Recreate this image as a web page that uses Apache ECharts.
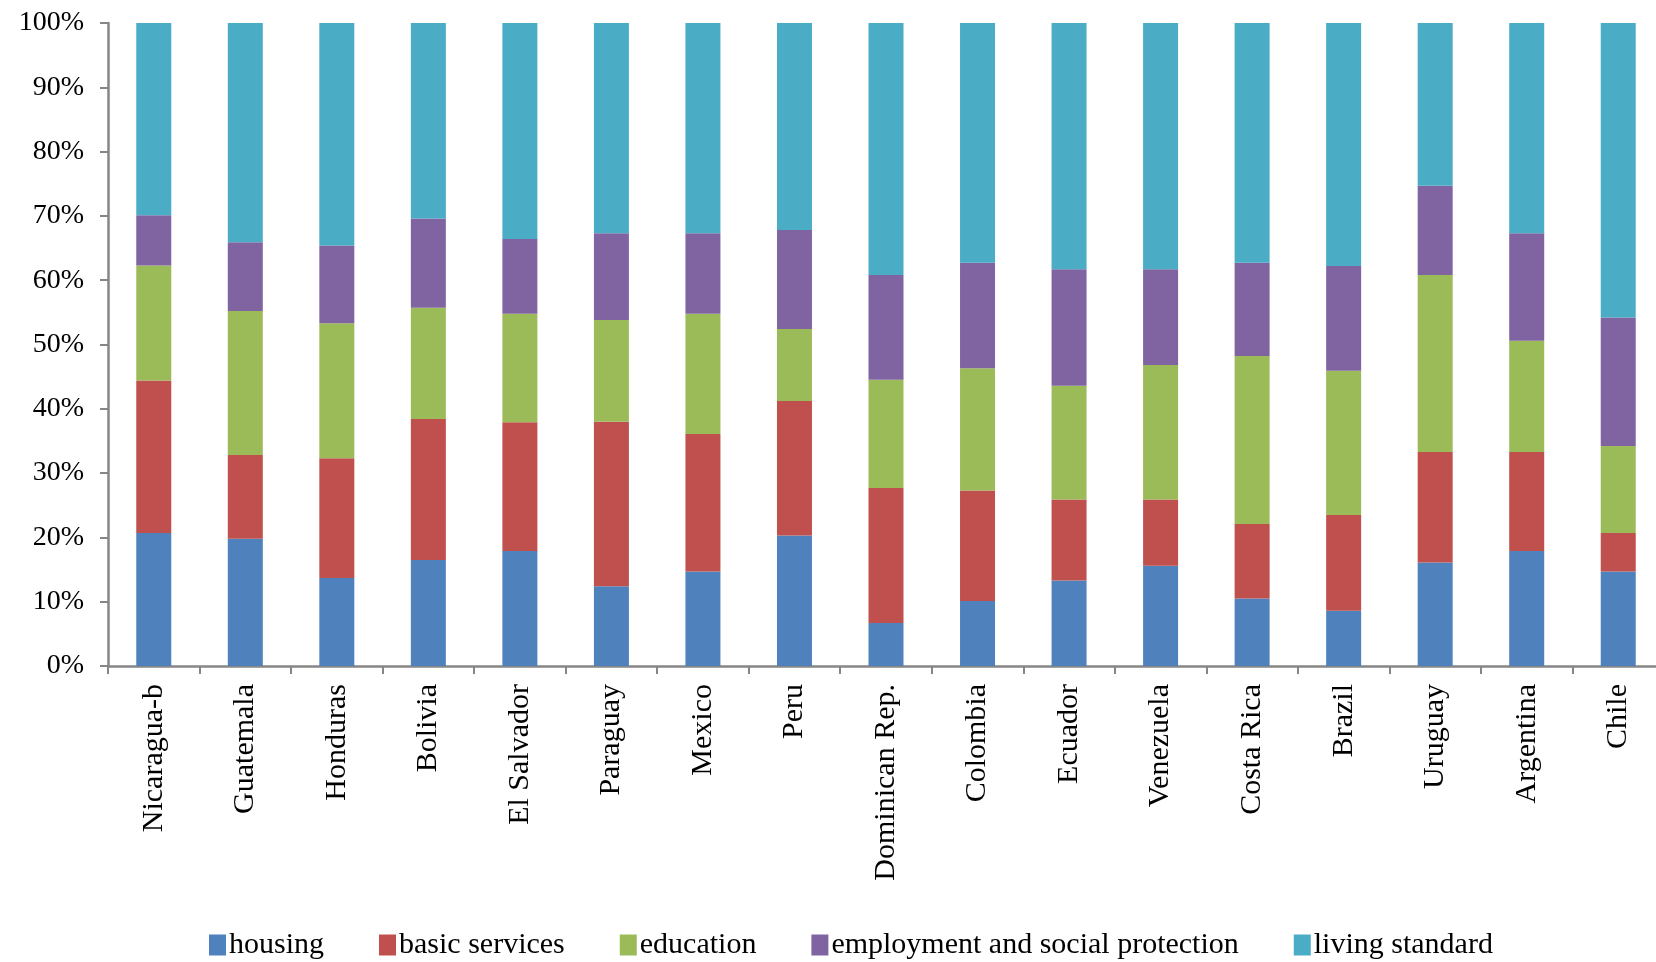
<!DOCTYPE html>
<html>
<head>
<meta charset="utf-8">
<script src="https://cdn.jsdelivr.net/npm/echarts@6/dist/echarts.min.js"></script>
<style>
html,body{margin:0;padding:0;background:#fff;}
#chart{width:1656px;height:962px;}
</style>
</head>
<body>
<div id="chart"></div>
<script>
const categories = ["Nicaragua-b","Guatemala","Honduras","Bolivia","El Salvador","Paraguay","Mexico","Peru","Dominican Rep.","Colombia","Ecuador","Venezuela","Costa Rica","Brazil","Uruguay","Argentina","Chile"];
const housing       = [20.7,19.8,13.7,16.5,17.9,12.4,14.7,20.3, 6.7,10.1,13.3,15.6,10.5, 8.6,16.1,17.9,14.7];
const basicServices = [23.7,13.0,18.6,21.9,20.0,25.6,21.4,20.9,21.0,17.2,12.6,10.3,11.6,14.9,17.2,15.4, 6.0];
const education     = [17.9,22.4,21.0,17.3,16.9,15.8,18.7,11.2,16.8,19.0,17.7,20.9,26.1,22.4,27.5,17.3,13.5];
const employment    = [ 7.8,10.7,12.1,13.9,11.6,13.5,12.5,15.4,16.3,16.4,18.1,14.9,14.5,16.3,13.9,16.7,20.0];
const livingStd     = [29.9,34.1,34.6,30.4,33.6,32.7,32.7,32.2,39.2,37.3,38.3,38.3,37.3,37.8,25.3,32.7,45.8];
const seriesNames = ["housing","basic services","education","employment and social protection","living standard"];
const yTicks = [0,10,20,30,40,50,60,70,80,90,100];

const colors = ["#4F81BD","#C0504D","#9BBB59","#8064A2","#4BACC6"];
const dataSets = [housing, basicServices, education, employment, livingStd];
const FONT = "'Liberation Serif', 'DejaVu Serif', serif";

const chart = echarts.init(document.getElementById('chart'));
chart.setOption({
  animation: false,
  backgroundColor: '#ffffff',
  color: colors,
  grid: { left: 108, right: -8, top: 23, bottom: 296, containLabel: false, outerBoundsMode: 'none' },
  legend: {
    data: seriesNames,
    left: 204, top: 925,
    icon: 'rect', itemWidth: 17, itemHeight: 21, itemGap: 55,
    textStyle: { fontFamily: FONT, fontSize: 30, color: '#000', padding: [0,0,0,-2] }
  },
  xAxis: {
    type: 'category',
    data: categories,
    boundaryGap: true,
    axisLine: { show: true, lineStyle: { color: '#868686', width: 2.5 } },
    axisTick: { show: true, length: 8, alignWithLabel: false, lineStyle: { color: '#868686', width: 2 } },
    axisLabel: { interval: 0, rotate: 90, margin: 18, fontFamily: FONT, fontSize: 30, color: '#000' },
    splitLine: { show: false }
  },
  yAxis: {
    type: 'value',
    min: yTicks[0], max: yTicks[yTicks.length-1], interval: 10,
    axisLine: { show: true, lineStyle: { color: '#868686', width: 2.5 } },
    axisTick: { show: true, length: 8, inside: false, lineStyle: { color: '#868686', width: 2 } },
    axisLabel: { formatter: '{value}%', margin: 24, fontFamily: FONT, fontSize: 28, color: '#000' },
    splitLine: { show: false }
  },
  series: seriesNames.map((name, i) => ({
    name: name,
    type: 'bar',
    stack: 'total',
    barWidth: 35,
    data: dataSets[i],
    itemStyle: { color: colors[i] }
  }))
});
</script>
</body>
</html>
